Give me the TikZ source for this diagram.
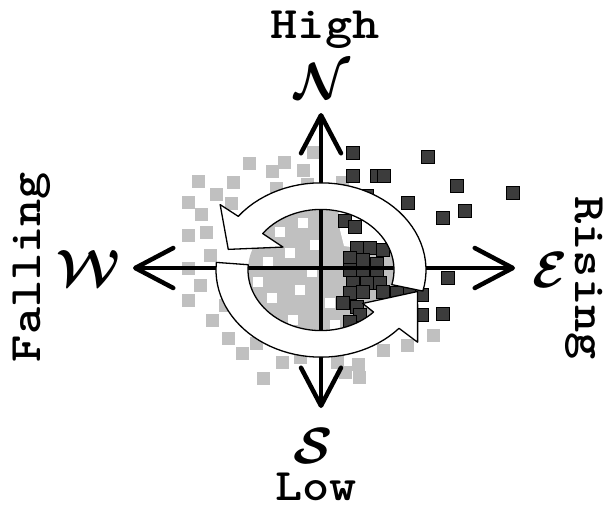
\documentclass[tikz,border=0pt]{standalone}
\usepackage{fontspec}
\usetikzlibrary{arrows.meta}
\definecolor{liteg}{HTML}{C0C0C0}
\definecolor{darkg}{HTML}{3C3C3C}

\begin{document}
\begin{tikzpicture}[x=1pt, y=-1pt,
    axis/.style={line width=4.5pt, line cap=round,
                 -{Straight Barb[length=38pt, width=40pt, round]}},
    word/.style={font=\ttfamily\bfseries\fontsize{45}{50}\selectfont, inner sep=0pt, xscale=1.15},
    pole/.style={font=\boldmath, scale=5.1, inner sep=0pt},
    band/.style={draw=black, fill=white, line width=1.3pt, line join=round},
    lite/.style={fill=liteg},
    dark/.style={fill=darkg, draw=black, line width=1pt},
]
  \useasboundingbox (0,0) rectangle (611,509);

  % falling points
  \foreach \x/\y in {313/152, 249/163, 284/162, 272/171, 303/170, 198/181, 233/182,
                     276/188, 307/184, 342/182, 188/202, 201/214, 231/203, 216/194,
                     188/235, 206/232, 210/255, 188/268, 200/285, 188/300, 212/320,
                     225/305, 242/353, 228/338, 256/343, 263/378, 282/362, 300/357,
                     337/362, 358/364, 359/377, 345/372, 383/350, 407/345, 433/335}
    \fill[lite] (\x-6.5,\y-6.5) rectangle +(13,13);

  % inside the ring
  \begin{scope}
    \clip (321,270) ellipse [x radius=73pt, y radius=60pt];
    \fill[liteg] (240,200) rectangle (400,340);
    \fill[white] (338,205) -- (400,205) -- (400,246) -- (386,252) -- (344,246) -- (340,230) -- cycle;
    \foreach \x/\y in {303/223, 290/253, 268/262, 258/282, 300/290, 272/298, 293/320,
                       330/303, 315/245, 280/232, 335/325, 312/272}
      \fill[white] (\x-5,\y-5) rectangle +(10,10);
  \end{scope}

  % rising points
  \foreach \x/\y in {353/153, 428/157, 353/176, 377/176, 384/176, 457/186, 513/193,
                     408/203, 443/218, 465/211, 367/196, 448/278, 443/314, 422/315,
                     345/221, 355/227, 357/248, 370/248, 383/250, 350/258, 363/260,
                     377/264, 350/270, 363/273, 377/273, 353/283, 367/283, 380/283,
                     350/293, 363/292, 383/292, 397/293, 410/294, 422/295, 343/303,
                     357/307, 360/315, 350/322}
    \draw[dark] (\x-6.5,\y-6.5) rectangle +(13,13);

  % compass
  \coordinate (o) at (321,268);
  \coordinate (ntip) at (321,113);
  \coordinate (stip) at (321,408);
  \coordinate (wtip) at (133,268);
  \coordinate (etip) at (515,268);
  \draw[axis] (o) -- (ntip);
  \draw[axis] (o) -- (stip);
  \draw[axis] (o) -- (wtip);
  \draw[axis] (o) -- (etip);

  % cycle arrows
  \begin{scope}[shift={(321,270)}, yscale=-0.83]
    \draw[band] plot[domain=175:318, samples=40] (\x:105) -- (318:130) -- (345:100)
      -- (316:58) -- (316:73) -- plot[domain=316:175, samples=40] (\x:73) -- cycle;
    \draw[band] plot[domain=-14:142, samples=40] (\x:105) -- (142:128) -- (165:96)
      -- (144:47) -- (143:73) -- plot[domain=143:-14, samples=40] (\x:73) -- cycle;
  \end{scope}

  \node[word, anchor=base] (high) at (325,38) {High};
  \node[pole] (north) at (322,81) {$\mathcal{N}$};
  \node[pole] (south) at (313,446) {$\mathcal{S}$};
  \node[word, anchor=base] (low) at (316,500) {Low};
  \node[pole] (west) at (88,268) {$\mathcal{W}$};
  \node[pole] (east) at (550,270) {$\mathcal{E}$};
  \node[rotate=90, word, anchor=base] (fall) at (40,267) {Falling};
  \node[rotate=-90, word, anchor=base] (rise) at (575,278) {Rising};
\end{tikzpicture}
\end{document}
